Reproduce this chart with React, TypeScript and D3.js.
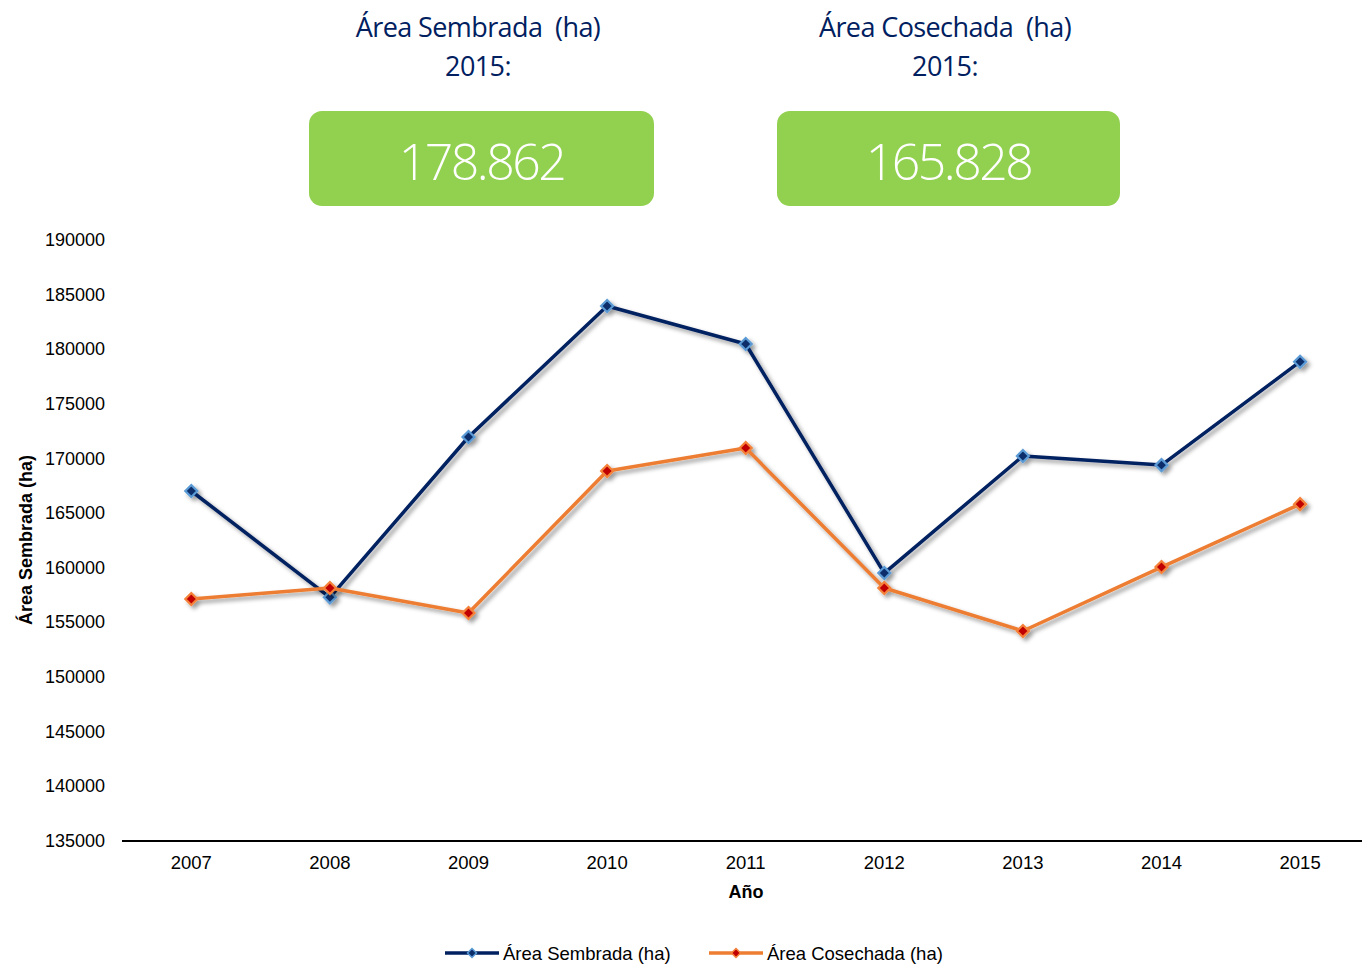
import React from "react";
import * as d3 from "d3";

const years = ["2007", "2008", "2009", "2010", "2011", "2012", "2013", "2014", "2015"];
const sembrada = [167030, 157300, 171970, 183960, 180480, 159520, 170230, 169400, 178862];
const cosechada = [157150, 158150, 155860, 168860, 170960, 158150, 154220, 160070, 165828];
const yTicks = [135000, 140000, 145000, 150000, 155000, 160000, 165000, 170000, 175000, 180000, 185000, 190000];

const series = [
  { name: "Área Sembrada (ha)", values: sembrada, line: "#002060", fill: "#0B2E6B", edge: "#5B9BD5" },
  { name: "Área Cosechada (ha)", values: cosechada, line: "#ED7D31", fill: "#C00000", edge: "#F4823A" },
];

const kpis = [
  { title: "Área Sembrada  (ha)", value: "178.862", cx: 478, x: 309, w: 345 },
  { title: "Área Cosechada  (ha)", value: "165.828", cx: 945, x: 777, w: 343 },
];

const W = 1362;
const H = 968;
const left = 122;
const top = 240;
const bottom = 841;
const axisFont = "'Liberation Sans', Arial, sans-serif";

export default function App() {
  const x = d3.scalePoint<string>().domain(years).range([left, left + 9 * 138.6]).padding(0.5);
  const y = d3.scaleLinear().domain([135000, 190000]).range([bottom, top]);
  const line = d3
    .line<number>()
    .x((_, i) => x(years[i]) as number)
    .y((d) => y(d));
  const diamond = (cx: number, cy: number, r: number) =>
    `M${cx},${cy - r}L${cx + r},${cy}L${cx},${cy + r}L${cx - r},${cy}Z`;

  return (
    <svg width={W} height={H} style={{ position: "absolute", left: 0, top: 0, background: "#fff" }}>
      <defs>
        <filter id="sh" x="-20%" y="-20%" width="140%" height="140%">
          <feDropShadow dx="3" dy="3" stdDeviation="2" floodColor="#000" floodOpacity="0.4" />
        </filter>
      </defs>

      {kpis.map((k) => (
        <g key={k.value}>
          <text x={k.cx} y={37} textAnchor="middle" fontFamily="'Open Sans', sans-serif" fontSize={27} fill="#002060" style={{ letterSpacing: "-0.6px", whiteSpace: "pre" }}>
            {k.title}
          </text>
          <text x={k.cx} y={76} textAnchor="middle" fontFamily="'Open Sans', sans-serif" fontSize={27} fill="#002060" style={{ letterSpacing: "-0.6px" }}>
            2015:
          </text>
          <rect x={k.x} y={111} width={k.w} height={95} rx={13} fill="#92D050" />
          <text x={k.x + k.w / 2} y={180} textAnchor="middle" fontFamily="'Open Sans', sans-serif" fontWeight={300} fontSize={50} fill="#fff" style={{ letterSpacing: "-2.5px" }}>
            {k.value}
          </text>
        </g>
      ))}

      {yTicks.map((t) => (
        <text key={t} x={105} y={y(t) + 6} textAnchor="end" fontFamily={axisFont} fontSize={18} fill="#000">
          {t}
        </text>
      ))}
      <line x1={left} x2={W} y1={bottom} y2={bottom} stroke="#000" strokeWidth={2} />
      {years.map((yr) => (
        <text key={yr} x={x(yr)} y={869} textAnchor="middle" fontFamily={axisFont} fontSize={18.5} fill="#000">
          {yr}
        </text>
      ))}
      <text x={746} y={898} textAnchor="middle" fontFamily={axisFont} fontWeight="bold" fontSize={18}>
        Año
      </text>
      <text transform="translate(32,540) rotate(-90)" textAnchor="middle" fontFamily={axisFont} fontWeight="bold" fontSize={18}>
        Área Sembrada (ha)
      </text>

      {series.map((s) => (
        <g key={s.name} filter="url(#sh)">
          <path d={line(s.values) || ""} fill="none" stroke={s.line} strokeWidth={3.5} strokeLinejoin="round" />
          {s.values.map((v, i) => (
            <path key={i} d={diamond(x(years[i]) as number, y(v), 6)} fill={s.fill} stroke={s.edge} strokeWidth={2.2} />
          ))}
        </g>
      ))}

      {series.map((s, i) => {
        const lx = i === 0 ? 445 : 709;
        return (
          <g key={s.name}>
            <line x1={lx} x2={lx + 54} y1={953} y2={953} stroke={s.line} strokeWidth={3.5} />
            <path d={diamond(lx + 27, 953, 4.5)} fill={s.fill} stroke={s.edge} strokeWidth={1.5} />
            <text x={lx + 58} y={960} fontFamily={axisFont} fontSize={18.5} fill="#000">
              {s.name}
            </text>
          </g>
        );
      })}
    </svg>
  );
}
